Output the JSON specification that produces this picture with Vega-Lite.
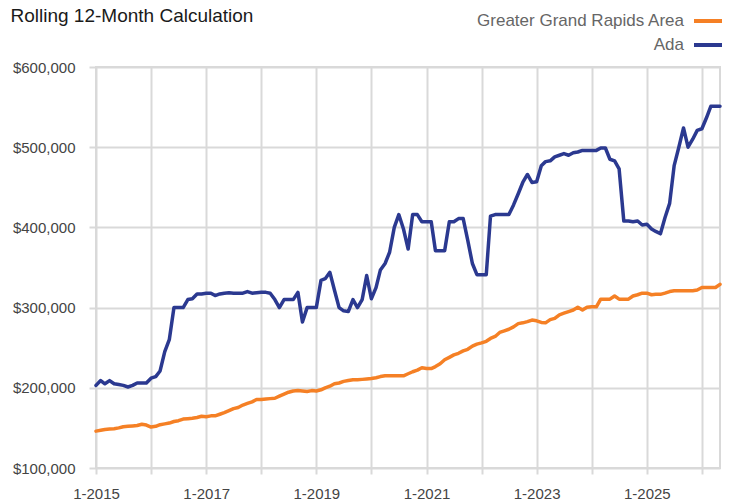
{
  "$schema": "https://vega.github.io/schema/vega-lite/v6.json",
  "width": 624,
  "height": 401,
  "autosize": {"type": "none"},
  "padding": {"left": 96, "top": 67, "right": 11, "bottom": 36},
  "background": "white",
  "config": {
    "view": {"stroke": "#d9d9d9", "strokeWidth": 2},
    "font": "Liberation Sans"
  },
  "data": {"values": [
    {"date":"2015-01-01","series":"Ada","value":203000},
    {"date":"2015-02-01","series":"Ada","value":209000},
    {"date":"2015-03-01","series":"Ada","value":205000},
    {"date":"2015-04-01","series":"Ada","value":209000},
    {"date":"2015-05-01","series":"Ada","value":205000},
    {"date":"2015-06-01","series":"Ada","value":204000},
    {"date":"2015-07-01","series":"Ada","value":203000},
    {"date":"2015-08-01","series":"Ada","value":201000},
    {"date":"2015-09-01","series":"Ada","value":203000},
    {"date":"2015-10-01","series":"Ada","value":206000},
    {"date":"2015-11-01","series":"Ada","value":206000},
    {"date":"2015-12-01","series":"Ada","value":206000},
    {"date":"2016-01-01","series":"Ada","value":212000},
    {"date":"2016-02-01","series":"Ada","value":214000},
    {"date":"2016-03-01","series":"Ada","value":221000},
    {"date":"2016-04-01","series":"Ada","value":245000},
    {"date":"2016-05-01","series":"Ada","value":260000},
    {"date":"2016-06-01","series":"Ada","value":300000},
    {"date":"2016-07-01","series":"Ada","value":300000},
    {"date":"2016-08-01","series":"Ada","value":300000},
    {"date":"2016-09-01","series":"Ada","value":310000},
    {"date":"2016-10-01","series":"Ada","value":311000},
    {"date":"2016-11-01","series":"Ada","value":317000},
    {"date":"2016-12-01","series":"Ada","value":317000},
    {"date":"2017-01-01","series":"Ada","value":318000},
    {"date":"2017-02-01","series":"Ada","value":318000},
    {"date":"2017-03-01","series":"Ada","value":315000},
    {"date":"2017-04-01","series":"Ada","value":317000},
    {"date":"2017-05-01","series":"Ada","value":318000},
    {"date":"2017-06-01","series":"Ada","value":318500},
    {"date":"2017-07-01","series":"Ada","value":318000},
    {"date":"2017-08-01","series":"Ada","value":318000},
    {"date":"2017-09-01","series":"Ada","value":318000},
    {"date":"2017-10-01","series":"Ada","value":320000},
    {"date":"2017-11-01","series":"Ada","value":318000},
    {"date":"2017-12-01","series":"Ada","value":318500},
    {"date":"2018-01-01","series":"Ada","value":319000},
    {"date":"2018-02-01","series":"Ada","value":319000},
    {"date":"2018-03-01","series":"Ada","value":318000},
    {"date":"2018-04-01","series":"Ada","value":310000},
    {"date":"2018-05-01","series":"Ada","value":300000},
    {"date":"2018-06-01","series":"Ada","value":310000},
    {"date":"2018-07-01","series":"Ada","value":310000},
    {"date":"2018-08-01","series":"Ada","value":310000},
    {"date":"2018-09-01","series":"Ada","value":319000},
    {"date":"2018-10-01","series":"Ada","value":282000},
    {"date":"2018-11-01","series":"Ada","value":300000},
    {"date":"2018-12-01","series":"Ada","value":300000},
    {"date":"2019-01-01","series":"Ada","value":300000},
    {"date":"2019-02-01","series":"Ada","value":334000},
    {"date":"2019-03-01","series":"Ada","value":336000},
    {"date":"2019-04-01","series":"Ada","value":344000},
    {"date":"2019-05-01","series":"Ada","value":322000},
    {"date":"2019-06-01","series":"Ada","value":300000},
    {"date":"2019-07-01","series":"Ada","value":296000},
    {"date":"2019-08-01","series":"Ada","value":295000},
    {"date":"2019-09-01","series":"Ada","value":310000},
    {"date":"2019-10-01","series":"Ada","value":300000},
    {"date":"2019-11-01","series":"Ada","value":310000},
    {"date":"2019-12-01","series":"Ada","value":340000},
    {"date":"2020-01-01","series":"Ada","value":311000},
    {"date":"2020-02-01","series":"Ada","value":325000},
    {"date":"2020-03-01","series":"Ada","value":347000},
    {"date":"2020-04-01","series":"Ada","value":355000},
    {"date":"2020-05-01","series":"Ada","value":369000},
    {"date":"2020-06-01","series":"Ada","value":400000},
    {"date":"2020-07-01","series":"Ada","value":416000},
    {"date":"2020-08-01","series":"Ada","value":398000},
    {"date":"2020-09-01","series":"Ada","value":373000},
    {"date":"2020-10-01","series":"Ada","value":416000},
    {"date":"2020-11-01","series":"Ada","value":416000},
    {"date":"2020-12-01","series":"Ada","value":407000},
    {"date":"2021-01-01","series":"Ada","value":407000},
    {"date":"2021-02-01","series":"Ada","value":407000},
    {"date":"2021-03-01","series":"Ada","value":371000},
    {"date":"2021-04-01","series":"Ada","value":371000},
    {"date":"2021-05-01","series":"Ada","value":371000},
    {"date":"2021-06-01","series":"Ada","value":407000},
    {"date":"2021-07-01","series":"Ada","value":407000},
    {"date":"2021-08-01","series":"Ada","value":411000},
    {"date":"2021-09-01","series":"Ada","value":411000},
    {"date":"2021-10-01","series":"Ada","value":384000},
    {"date":"2021-11-01","series":"Ada","value":355000},
    {"date":"2021-12-01","series":"Ada","value":341000},
    {"date":"2022-01-01","series":"Ada","value":341000},
    {"date":"2022-02-01","series":"Ada","value":341000},
    {"date":"2022-03-01","series":"Ada","value":414000},
    {"date":"2022-04-01","series":"Ada","value":416000},
    {"date":"2022-05-01","series":"Ada","value":416000},
    {"date":"2022-06-01","series":"Ada","value":416000},
    {"date":"2022-07-01","series":"Ada","value":416000},
    {"date":"2022-08-01","series":"Ada","value":428000},
    {"date":"2022-09-01","series":"Ada","value":442000},
    {"date":"2022-10-01","series":"Ada","value":456000},
    {"date":"2022-11-01","series":"Ada","value":466000},
    {"date":"2022-12-01","series":"Ada","value":456000},
    {"date":"2023-01-01","series":"Ada","value":457000},
    {"date":"2023-02-01","series":"Ada","value":477000},
    {"date":"2023-03-01","series":"Ada","value":482000},
    {"date":"2023-04-01","series":"Ada","value":483000},
    {"date":"2023-05-01","series":"Ada","value":488000},
    {"date":"2023-06-01","series":"Ada","value":490000},
    {"date":"2023-07-01","series":"Ada","value":492000},
    {"date":"2023-08-01","series":"Ada","value":490000},
    {"date":"2023-09-01","series":"Ada","value":493000},
    {"date":"2023-10-01","series":"Ada","value":494000},
    {"date":"2023-11-01","series":"Ada","value":496000},
    {"date":"2023-12-01","series":"Ada","value":496000},
    {"date":"2024-01-01","series":"Ada","value":496000},
    {"date":"2024-02-01","series":"Ada","value":496000},
    {"date":"2024-03-01","series":"Ada","value":499000},
    {"date":"2024-04-01","series":"Ada","value":499000},
    {"date":"2024-05-01","series":"Ada","value":485000},
    {"date":"2024-06-01","series":"Ada","value":483000},
    {"date":"2024-07-01","series":"Ada","value":473000},
    {"date":"2024-08-01","series":"Ada","value":408000},
    {"date":"2024-09-01","series":"Ada","value":408000},
    {"date":"2024-10-01","series":"Ada","value":407000},
    {"date":"2024-11-01","series":"Ada","value":408000},
    {"date":"2024-12-01","series":"Ada","value":403000},
    {"date":"2025-01-01","series":"Ada","value":404000},
    {"date":"2025-02-01","series":"Ada","value":398000},
    {"date":"2025-03-01","series":"Ada","value":395000},
    {"date":"2025-04-01","series":"Ada","value":392000},
    {"date":"2025-05-01","series":"Ada","value":412000},
    {"date":"2025-06-01","series":"Ada","value":430000},
    {"date":"2025-07-01","series":"Ada","value":477000},
    {"date":"2025-08-01","series":"Ada","value":500000},
    {"date":"2025-09-01","series":"Ada","value":524000},
    {"date":"2025-10-01","series":"Ada","value":500000},
    {"date":"2025-11-01","series":"Ada","value":510000},
    {"date":"2025-12-01","series":"Ada","value":521000},
    {"date":"2026-01-01","series":"Ada","value":523000},
    {"date":"2026-02-01","series":"Ada","value":537000},
    {"date":"2026-03-01","series":"Ada","value":551000},
    {"date":"2026-04-01","series":"Ada","value":551000},
    {"date":"2026-05-01","series":"Ada","value":551000},
    {"date":"2015-01-01","series":"Greater Grand Rapids Area","value":146000},
    {"date":"2015-02-01","series":"Greater Grand Rapids Area","value":147000},
    {"date":"2015-03-01","series":"Greater Grand Rapids Area","value":148000},
    {"date":"2015-04-01","series":"Greater Grand Rapids Area","value":148500},
    {"date":"2015-05-01","series":"Greater Grand Rapids Area","value":149000},
    {"date":"2015-06-01","series":"Greater Grand Rapids Area","value":150000},
    {"date":"2015-07-01","series":"Greater Grand Rapids Area","value":151500},
    {"date":"2015-08-01","series":"Greater Grand Rapids Area","value":152000},
    {"date":"2015-09-01","series":"Greater Grand Rapids Area","value":152500},
    {"date":"2015-10-01","series":"Greater Grand Rapids Area","value":153000},
    {"date":"2015-11-01","series":"Greater Grand Rapids Area","value":154500},
    {"date":"2015-12-01","series":"Greater Grand Rapids Area","value":153500},
    {"date":"2016-01-01","series":"Greater Grand Rapids Area","value":151000},
    {"date":"2016-02-01","series":"Greater Grand Rapids Area","value":152000},
    {"date":"2016-03-01","series":"Greater Grand Rapids Area","value":154000},
    {"date":"2016-04-01","series":"Greater Grand Rapids Area","value":155000},
    {"date":"2016-05-01","series":"Greater Grand Rapids Area","value":156000},
    {"date":"2016-06-01","series":"Greater Grand Rapids Area","value":158000},
    {"date":"2016-07-01","series":"Greater Grand Rapids Area","value":159000},
    {"date":"2016-08-01","series":"Greater Grand Rapids Area","value":161000},
    {"date":"2016-09-01","series":"Greater Grand Rapids Area","value":161500},
    {"date":"2016-10-01","series":"Greater Grand Rapids Area","value":162000},
    {"date":"2016-11-01","series":"Greater Grand Rapids Area","value":163000},
    {"date":"2016-12-01","series":"Greater Grand Rapids Area","value":164500},
    {"date":"2017-01-01","series":"Greater Grand Rapids Area","value":164000},
    {"date":"2017-02-01","series":"Greater Grand Rapids Area","value":165000},
    {"date":"2017-03-01","series":"Greater Grand Rapids Area","value":165000},
    {"date":"2017-04-01","series":"Greater Grand Rapids Area","value":167000},
    {"date":"2017-05-01","series":"Greater Grand Rapids Area","value":169000},
    {"date":"2017-06-01","series":"Greater Grand Rapids Area","value":171500},
    {"date":"2017-07-01","series":"Greater Grand Rapids Area","value":174000},
    {"date":"2017-08-01","series":"Greater Grand Rapids Area","value":175500},
    {"date":"2017-09-01","series":"Greater Grand Rapids Area","value":178500},
    {"date":"2017-10-01","series":"Greater Grand Rapids Area","value":180500},
    {"date":"2017-11-01","series":"Greater Grand Rapids Area","value":182500},
    {"date":"2017-12-01","series":"Greater Grand Rapids Area","value":185500},
    {"date":"2018-01-01","series":"Greater Grand Rapids Area","value":185500},
    {"date":"2018-02-01","series":"Greater Grand Rapids Area","value":186000},
    {"date":"2018-03-01","series":"Greater Grand Rapids Area","value":186500},
    {"date":"2018-04-01","series":"Greater Grand Rapids Area","value":187000},
    {"date":"2018-05-01","series":"Greater Grand Rapids Area","value":189500},
    {"date":"2018-06-01","series":"Greater Grand Rapids Area","value":192000},
    {"date":"2018-07-01","series":"Greater Grand Rapids Area","value":194500},
    {"date":"2018-08-01","series":"Greater Grand Rapids Area","value":196000},
    {"date":"2018-09-01","series":"Greater Grand Rapids Area","value":196500},
    {"date":"2018-10-01","series":"Greater Grand Rapids Area","value":196000},
    {"date":"2018-11-01","series":"Greater Grand Rapids Area","value":195500},
    {"date":"2018-12-01","series":"Greater Grand Rapids Area","value":196500},
    {"date":"2019-01-01","series":"Greater Grand Rapids Area","value":196000},
    {"date":"2019-02-01","series":"Greater Grand Rapids Area","value":197500},
    {"date":"2019-03-01","series":"Greater Grand Rapids Area","value":200000},
    {"date":"2019-04-01","series":"Greater Grand Rapids Area","value":202000},
    {"date":"2019-05-01","series":"Greater Grand Rapids Area","value":205000},
    {"date":"2019-06-01","series":"Greater Grand Rapids Area","value":206000},
    {"date":"2019-07-01","series":"Greater Grand Rapids Area","value":208000},
    {"date":"2019-08-01","series":"Greater Grand Rapids Area","value":209000},
    {"date":"2019-09-01","series":"Greater Grand Rapids Area","value":210000},
    {"date":"2019-10-01","series":"Greater Grand Rapids Area","value":210000},
    {"date":"2019-11-01","series":"Greater Grand Rapids Area","value":210500},
    {"date":"2019-12-01","series":"Greater Grand Rapids Area","value":211000},
    {"date":"2020-01-01","series":"Greater Grand Rapids Area","value":211500},
    {"date":"2020-02-01","series":"Greater Grand Rapids Area","value":212500},
    {"date":"2020-03-01","series":"Greater Grand Rapids Area","value":214000},
    {"date":"2020-04-01","series":"Greater Grand Rapids Area","value":215000},
    {"date":"2020-05-01","series":"Greater Grand Rapids Area","value":215000},
    {"date":"2020-06-01","series":"Greater Grand Rapids Area","value":215000},
    {"date":"2020-07-01","series":"Greater Grand Rapids Area","value":215000},
    {"date":"2020-08-01","series":"Greater Grand Rapids Area","value":215000},
    {"date":"2020-09-01","series":"Greater Grand Rapids Area","value":217500},
    {"date":"2020-10-01","series":"Greater Grand Rapids Area","value":220000},
    {"date":"2020-11-01","series":"Greater Grand Rapids Area","value":222000},
    {"date":"2020-12-01","series":"Greater Grand Rapids Area","value":225000},
    {"date":"2021-01-01","series":"Greater Grand Rapids Area","value":224000},
    {"date":"2021-02-01","series":"Greater Grand Rapids Area","value":224000},
    {"date":"2021-03-01","series":"Greater Grand Rapids Area","value":226500},
    {"date":"2021-04-01","series":"Greater Grand Rapids Area","value":230000},
    {"date":"2021-05-01","series":"Greater Grand Rapids Area","value":235000},
    {"date":"2021-06-01","series":"Greater Grand Rapids Area","value":238000},
    {"date":"2021-07-01","series":"Greater Grand Rapids Area","value":241000},
    {"date":"2021-08-01","series":"Greater Grand Rapids Area","value":243000},
    {"date":"2021-09-01","series":"Greater Grand Rapids Area","value":246000},
    {"date":"2021-10-01","series":"Greater Grand Rapids Area","value":248000},
    {"date":"2021-11-01","series":"Greater Grand Rapids Area","value":252000},
    {"date":"2021-12-01","series":"Greater Grand Rapids Area","value":254500},
    {"date":"2022-01-01","series":"Greater Grand Rapids Area","value":256000},
    {"date":"2022-02-01","series":"Greater Grand Rapids Area","value":258000},
    {"date":"2022-03-01","series":"Greater Grand Rapids Area","value":261500},
    {"date":"2022-04-01","series":"Greater Grand Rapids Area","value":264000},
    {"date":"2022-05-01","series":"Greater Grand Rapids Area","value":269000},
    {"date":"2022-06-01","series":"Greater Grand Rapids Area","value":271000},
    {"date":"2022-07-01","series":"Greater Grand Rapids Area","value":273000},
    {"date":"2022-08-01","series":"Greater Grand Rapids Area","value":276000},
    {"date":"2022-09-01","series":"Greater Grand Rapids Area","value":280000},
    {"date":"2022-10-01","series":"Greater Grand Rapids Area","value":281000},
    {"date":"2022-11-01","series":"Greater Grand Rapids Area","value":282500},
    {"date":"2022-12-01","series":"Greater Grand Rapids Area","value":284500},
    {"date":"2023-01-01","series":"Greater Grand Rapids Area","value":283500},
    {"date":"2023-02-01","series":"Greater Grand Rapids Area","value":281500},
    {"date":"2023-03-01","series":"Greater Grand Rapids Area","value":281000},
    {"date":"2023-04-01","series":"Greater Grand Rapids Area","value":285000},
    {"date":"2023-05-01","series":"Greater Grand Rapids Area","value":286500},
    {"date":"2023-06-01","series":"Greater Grand Rapids Area","value":291000},
    {"date":"2023-07-01","series":"Greater Grand Rapids Area","value":293000},
    {"date":"2023-08-01","series":"Greater Grand Rapids Area","value":295000},
    {"date":"2023-09-01","series":"Greater Grand Rapids Area","value":297000},
    {"date":"2023-10-01","series":"Greater Grand Rapids Area","value":300500},
    {"date":"2023-11-01","series":"Greater Grand Rapids Area","value":297000},
    {"date":"2023-12-01","series":"Greater Grand Rapids Area","value":300500},
    {"date":"2024-01-01","series":"Greater Grand Rapids Area","value":301000},
    {"date":"2024-02-01","series":"Greater Grand Rapids Area","value":301000},
    {"date":"2024-03-01","series":"Greater Grand Rapids Area","value":310500},
    {"date":"2024-04-01","series":"Greater Grand Rapids Area","value":310500},
    {"date":"2024-05-01","series":"Greater Grand Rapids Area","value":310500},
    {"date":"2024-06-01","series":"Greater Grand Rapids Area","value":314500},
    {"date":"2024-07-01","series":"Greater Grand Rapids Area","value":310500},
    {"date":"2024-08-01","series":"Greater Grand Rapids Area","value":310500},
    {"date":"2024-09-01","series":"Greater Grand Rapids Area","value":310500},
    {"date":"2024-10-01","series":"Greater Grand Rapids Area","value":314500},
    {"date":"2024-11-01","series":"Greater Grand Rapids Area","value":316000},
    {"date":"2024-12-01","series":"Greater Grand Rapids Area","value":318000},
    {"date":"2025-01-01","series":"Greater Grand Rapids Area","value":318000},
    {"date":"2025-02-01","series":"Greater Grand Rapids Area","value":316000},
    {"date":"2025-03-01","series":"Greater Grand Rapids Area","value":316500},
    {"date":"2025-04-01","series":"Greater Grand Rapids Area","value":316500},
    {"date":"2025-05-01","series":"Greater Grand Rapids Area","value":318000},
    {"date":"2025-06-01","series":"Greater Grand Rapids Area","value":320000},
    {"date":"2025-07-01","series":"Greater Grand Rapids Area","value":321000},
    {"date":"2025-08-01","series":"Greater Grand Rapids Area","value":321000},
    {"date":"2025-09-01","series":"Greater Grand Rapids Area","value":321000},
    {"date":"2025-10-01","series":"Greater Grand Rapids Area","value":321000},
    {"date":"2025-11-01","series":"Greater Grand Rapids Area","value":321000},
    {"date":"2025-12-01","series":"Greater Grand Rapids Area","value":322000},
    {"date":"2026-01-01","series":"Greater Grand Rapids Area","value":325000},
    {"date":"2026-02-01","series":"Greater Grand Rapids Area","value":325000},
    {"date":"2026-03-01","series":"Greater Grand Rapids Area","value":325000},
    {"date":"2026-04-01","series":"Greater Grand Rapids Area","value":325000},
    {"date":"2026-05-01","series":"Greater Grand Rapids Area","value":329000}
  ]},
  "mark": {"type": "line", "strokeWidth": 3.5, "strokeJoin": "round", "strokeCap": "round"},
  "encoding": {
    "x": {
      "field": "date",
      "type": "temporal",
      "scale": {
        "type": "utc",
        "domain": ["2015-01-01", "2026-05-01"]
      },
      "axis": {
        "title": null,
        "grid": true,
        "gridColor": "#d9d9d9",
        "gridWidth": 2,
        "domain": false,
        "ticks": true,
        "tickColor": "#d9d9d9",
        "tickWidth": 2,
        "tickSize": 6,
        "tickCount": {"interval": "year", "step": 1},
        "labelExpr": "utcyear(datum.value) % 2 == 1 ? utcFormat(datum.value, '%-m-%Y') : ''",
        "labelFont": "Liberation Sans",
        "labelFontSize": 15,
        "labelColor": "#444444",
        "labelPadding": 12,
        "labelFlush": false,
        "labelOverlap": false
      }
    },
    "y": {
      "field": "value",
      "type": "quantitative",
      "scale": {"domain": [100000, 600000], "nice": false, "zero": false},
      "axis": {
        "title": "Rolling 12-Month Calculation",
        "titleX": -86,
        "titleY": -46,
        "titleAngle": 0,
        "titleAlign": "left",
        "titleBaseline": "alphabetic",
        "titleFont": "Liberation Sans",
        "titleFontSize": 19,
        "titleFontWeight": "normal",
        "titleColor": "#1a1a1a",
        "values": [100000, 200000, 300000, 400000, 500000, 600000],
        "format": "$,.0f",
        "grid": true,
        "gridColor": "#d9d9d9",
        "gridWidth": 2,
        "domain": false,
        "ticks": true,
        "tickColor": "#d9d9d9",
        "tickWidth": 2,
        "tickSize": 7,
        "labelPadding": 14,
        "labelFont": "Liberation Sans",
        "labelFontSize": 15,
        "labelColor": "#444444"
      }
    },
    "color": {
      "field": "series",
      "type": "nominal",
      "scale": {
        "domain": ["Greater Grand Rapids Area", "Ada"],
        "range": ["#f58025", "#2b3990"]
      },
      "legend": {
        "title": null,
        "orient": "none",
        "legendX": 596,
        "legendY": -62,
        "direction": "vertical",
        "padding": 0,
        "symbolType": "stroke",
        "symbolSize": 784,
        "symbolStrokeWidth": 4,
        "labelAlign": "right",
        "labelOffset": -40,
        "labelLimit": 400,
        "labelFont": "Liberation Sans",
        "labelFontSize": 17,
        "labelColor": "#666666",
        "rowPadding": -4
      }
    }
  }
}
